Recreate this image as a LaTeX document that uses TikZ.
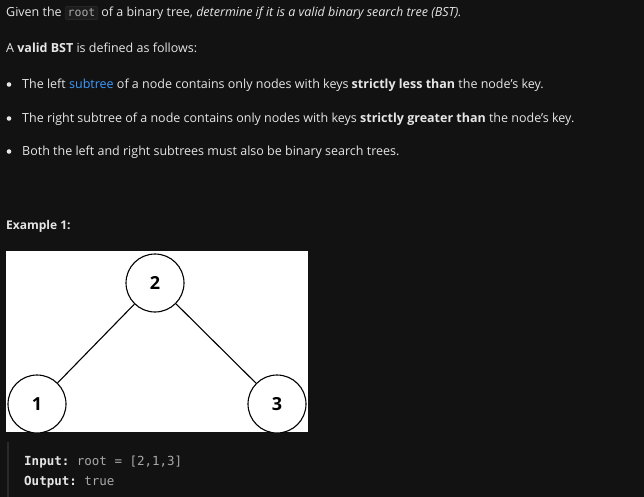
\documentclass[tikz,border=0pt]{standalone}
\usepackage{fontspec}
\setmainfont{Open Sans}
\setmonofont{DejaVu Sans Mono}
\usetikzlibrary{positioning}
\definecolor{bg}{HTML}{121212}
\definecolor{txt}{HTML}{E6E6E6}
\definecolor{codegray}{HTML}{A8A8A8}
\definecolor{linkblue}{HTML}{3C9BFF}
\definecolor{codebox}{HTML}{1C1C1C}
\tikzstyle{line}=[anchor=base west,inner sep=0pt,text=txt,font=\fontsize{12.5}{15}\selectfont]
\tikzstyle{treenode}=[draw=black,fill=white,circle,line width=1.1pt,minimum size=58pt,inner sep=0pt,font=\bfseries\fontsize{18}{20}\selectfont]
\newcommand{\inl}[1]{\tikz[baseline=(c.base)]\node[fill=codebox,draw=white!12!bg,rounded corners=2pt,inner sep=2.5pt,text=codegray,font=\ttfamily\fontsize{11.5}{14}\selectfont](c){#1};}

\begin{document}
\begin{tikzpicture}[x=1pt,y=-1pt]
  \fill[bg] (0,0) rectangle (644,497);
  \useasboundingbox (0,0) rectangle (644,497);

  % text
  \node[line] (given) at (6,17) {Given the \inl{root} of a binary tree, \textit{determine if it is a valid binary search tree (BST).}};
  \node[line] (valid) at (6,53) {A \textbf{valid BST} is defined as follows:};
  \foreach \n/\y/\t in {b1/89/{The left {\color{linkblue}subtree} of a node contains only nodes with keys \textbf{strictly less than} the node's key.},
                      b2/123/{The right subtree of a node contains only nodes with keys \textbf{strictly greater than} the node's key.},
                      b3/156/{Both the left and right subtrees must also be binary search trees.}}{
    \fill[txt] (9,\y-4.5) circle (2.3pt);
    \node[line] (\n) at (22,\y) {\t};
  }
  \node[line,font=\bfseries\fontsize{12}{14}\selectfont] (ex) at (6,229) {Example 1:};

  % tree picture
  \fill[white] (6,251) rectangle (308,432);
  \begin{scope}
    \clip (6,251) rectangle (308,432);
    \node[treenode] (n2) at (155,283) {2};
    \node[treenode] (n1) at (37,404) {1};
    \node[treenode] (n3) at (277,404) {3};
    \draw[line width=1.1pt] (n2) -- (n1);
    \draw[line width=1.1pt] (n2) -- (n3);
  \end{scope}

  % example io
  \draw[white!10!bg,line width=2pt] (8,442) -- (8,497);
  \node[line,font=\ttfamily\fontsize{12.5}{15}\selectfont] (in) at (24,465) {\textbf{Input:} \textcolor{codegray}{root = [2,1,3]}};
  \node[line,font=\ttfamily\fontsize{12.5}{15}\selectfont] (out) at (24,485) {\textbf{Output:} \textcolor{codegray}{true}};
\end{tikzpicture}
\end{document}
